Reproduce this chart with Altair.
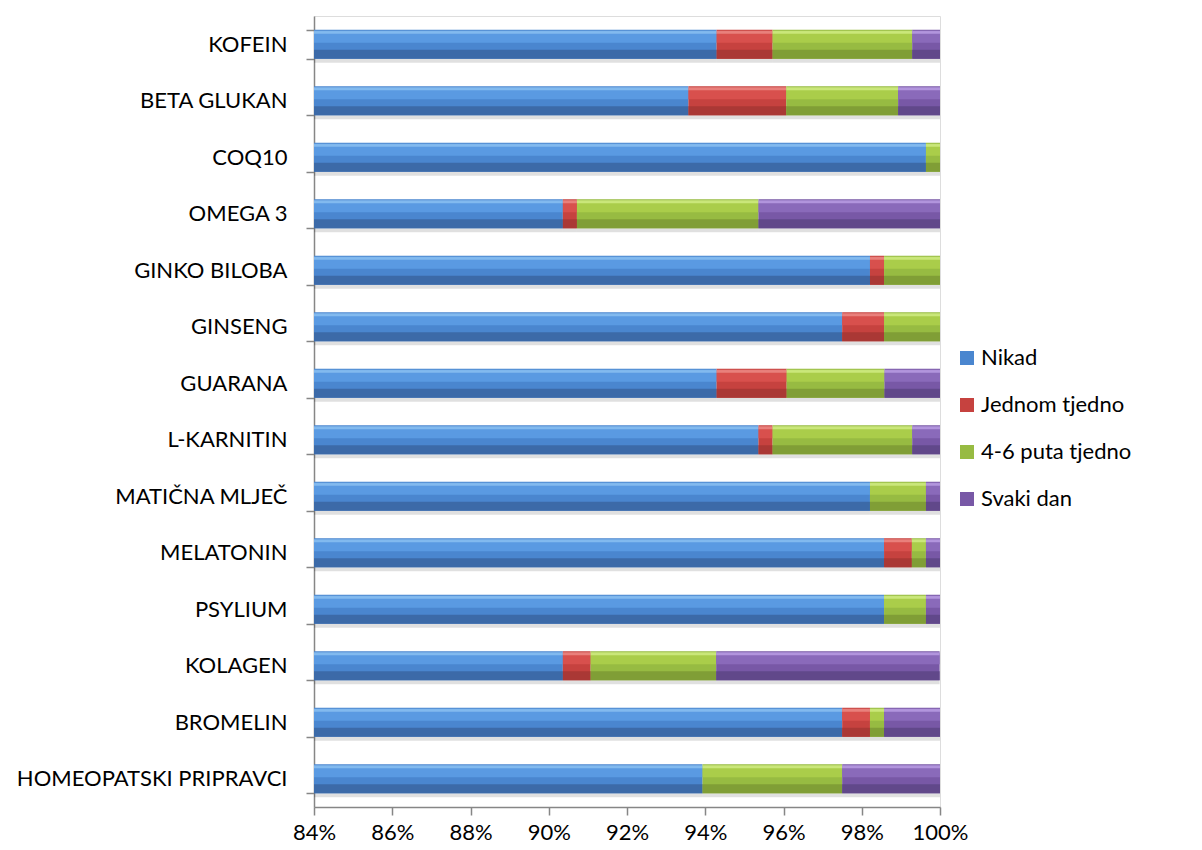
import altair as alt
import pandas as pd

categories = ["KOFEIN", "BETA GLUKAN", "COQ10", "OMEGA 3", "GINKO BILOBA", "GINSENG",
              "GUARANA", "L-KARNITIN", "MATIČNA MLJEČ", "MELATONIN", "PSYLIUM",
              "KOLAGEN", "BROMELIN", "HOMEOPATSKI PRIPRAVCI"]
series = ["Nikad", "Jednom tjedno", "4-6 puta tjedno", "Svaki dan"]
nikad = [94.29, 93.57, 99.64, 90.36, 98.21, 97.50, 94.29, 95.36, 98.21, 98.57, 98.57, 90.36, 97.50, 93.93]
jednom = [1.43, 2.50, 0.00, 0.36, 0.36, 1.07, 1.79, 0.36, 0.00, 0.71, 0.00, 0.71, 0.71, 0.00]
puta46 = [3.57, 2.86, 0.36, 4.64, 1.43, 1.43, 2.50, 3.57, 1.43, 0.36, 1.07, 3.21, 0.36, 3.57]
svaki = [0.71, 1.07, 0.00, 4.64, 0.00, 0.00, 1.43, 0.71, 0.36, 0.36, 0.36, 5.71, 1.43, 2.50]

mid_colors = ["#4a86cf", "#c6423f", "#97bb42", "#7858a6"]
top_colors = ["#5a9ae2", "#d8504d", "#aacd4a", "#8a6aba"]
bot_colors = ["#3c6aa8", "#aa3835", "#809e36", "#61488a"]
hi_colors = ["#8cc2f2", "#ee8c88", "#d2ee86", "#bca0e6"]

rows = []
for i, c in enumerate(categories):
    for j, (s, vals) in enumerate(zip(series, [nikad, jednom, puta46, svaki])):
        rows.append({"cat": c, "series": s, "order": j, "value": vals[i]})
df = pd.DataFrame(rows)

FONT = "Lato"
FS = 22

y_enc = alt.Y("cat:N", sort=categories, title=None,
              scale=alt.Scale(paddingInner=0.49, paddingOuter=0.245),
              axis=alt.Axis(tickBand="extent", labelFontSize=FS, labelFont=FONT, labelLimit=0,
                            labelColor="#000000", domainColor="#868686", tickColor="#868686",
                            tickSize=8, labelPadding=19, domainWidth=1.5, tickWidth=1.5))
x_enc = alt.X("value:Q", stack="zero", title=None,
              scale=alt.Scale(domain=[84, 100], zero=False, nice=False),
              axis=alt.Axis(values=list(range(84, 101, 2)), labelExpr="datum.value + '%'",
                            grid=False, labelFontSize=FS, labelFont=FONT, labelColor="#000000",
                            labelFlush=False, labelOverlap=False,
                            domainColor="#868686", tickColor="#868686", tickSize=8,
                            labelPadding=7, domainWidth=1.5, tickWidth=1.5))
order_enc = alt.Order("order:Q", sort="ascending")


def overlay(colors, size, offset, opacity=1.0):
    return alt.Chart(df).mark_bar(clip=True, size=size, yOffset=offset, opacity=opacity).encode(
        y=alt.Y("cat:N", sort=categories, title=None),
        x=alt.X("value:Q", stack="zero", title=None),
        order=order_enc,
        color=alt.Color("series:N", sort=series,
                        scale=alt.Scale(domain=series, range=colors), legend=None),
    )


shadow = alt.Chart(df).mark_bar(clip=True, size=29, yOffset=4, color="#000000", opacity=0.12).encode(
    y=y_enc, x=x_enc, order=order_enc,
)

base = alt.Chart(df).mark_bar(clip=True, size=29).encode(
    y=alt.Y("cat:N", sort=categories, title=None),
    x=alt.X("value:Q", stack="zero", title=None),
    order=order_enc,
    color=alt.Color("series:N", sort=series,
                    scale=alt.Scale(domain=series, range=mid_colors),
                    legend=alt.Legend(title=None, orient="none", legendX=642, legendY=331,
                                      symbolType="square", symbolSize=196,
                                      symbolStrokeWidth=0, labelFontSize=FS, labelFont=FONT,
                                      labelColor="#000000", rowPadding=25, labelOffset=3,
                                      labelLimit=0)),
)

top = overlay(top_colors, 11, -7)
bot = overlay(bot_colors, 9, 10)
hi = overlay(hi_colors, 3, -12, 0.8)

chart = alt.layer(shadow, base, top, bot, hi).resolve_scale(color="independent").properties(
    width=626, height=791, padding={"left": 8, "top": -3, "right": 5, "bottom": 5}
).configure_view(stroke=None).configure(font=FONT)

chart.save("out.html", embed_options={"renderer": "svg", "actions": False})
